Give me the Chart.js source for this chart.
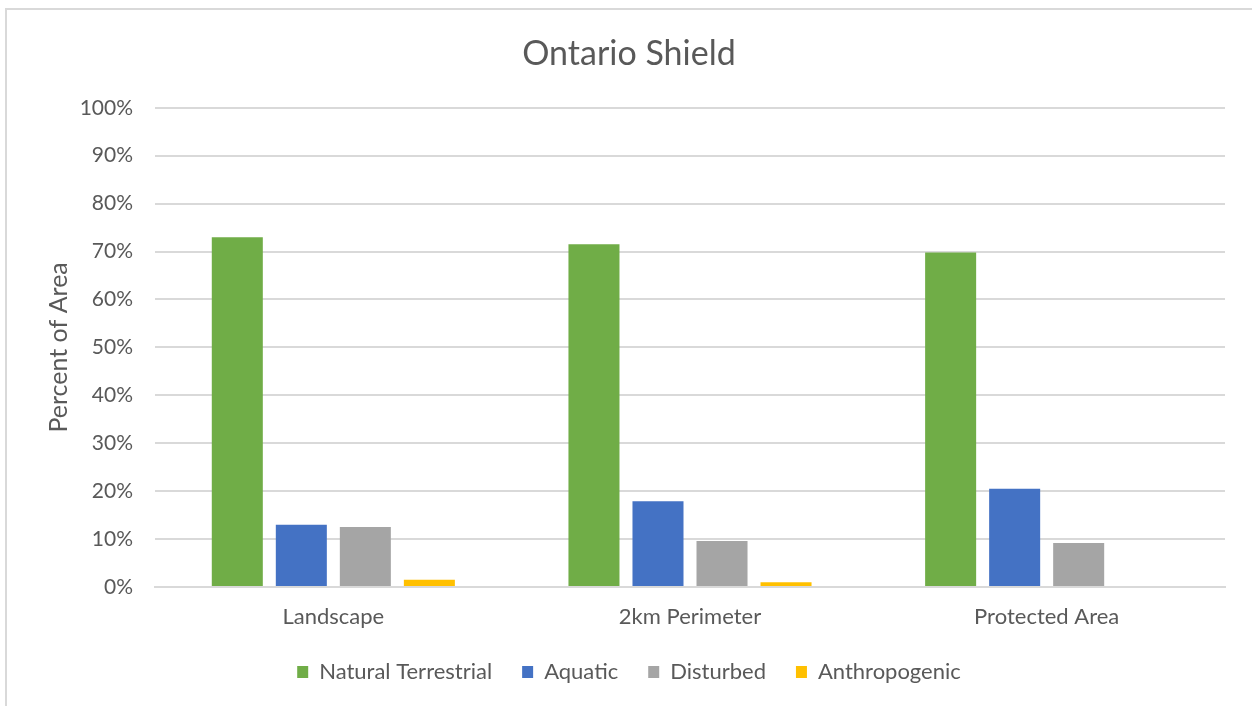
<!DOCTYPE html>
<html>
<head>
<meta charset="utf-8">
<script src="https://cdn.jsdelivr.net/npm/chart.js@4/dist/chart.umd.min.js"></script>
<style>
  html, body { margin: 0; padding: 0; background: #fff; overflow: hidden; }
  #frame { position: absolute; left: 5px; top: 8px; width: 1260px; height: 720px; border: 2px solid #d9d9d9; }
  #wrap { position: absolute; left: 0; top: 0; width: 1252px; height: 706px; }
</style>
</head>
<body>
<div id="frame"></div>
<div id="wrap"><canvas id="chart"></canvas></div>
<script>
const CATEGORIES = ['Landscape', '2km Perimeter', 'Protected Area'];
const NATURAL_TERRESTRIAL = [73.0, 71.5, 69.8];
const AQUATIC = [13.0, 17.9, 20.5];
const DISTURBED = [12.5, 9.6, 9.2];
const ANTHROPOGENIC = [1.5, 1.0, 0.0];
const Y_TICKS = [0, 10, 20, 30, 40, 50, 60, 70, 80, 90, 100];

const TEXT_COLOR = '#595959';
const GRID_COLOR = '#d9d9d9';
const FONT = 'Lato, "Open Sans", sans-serif';

function makeSeries(label, data, color) {
  return {
    label,
    data,
    backgroundColor: color,
    borderWidth: 0,
    categoryPercentage: 0.718,
    barPercentage: 0.797
  };
}

new Chart(document.getElementById('chart'), {
  type: 'bar',
  data: {
    labels: CATEGORIES,
    datasets: [
      makeSeries('Natural Terrestrial', NATURAL_TERRESTRIAL, '#70ad47'),
      makeSeries('Aquatic', AQUATIC, '#4472c4'),
      makeSeries('Disturbed', DISTURBED, '#a5a5a5'),
      makeSeries('Anthropogenic', ANTHROPOGENIC, '#ffc000')
    ]
  },
  options: {
    responsive: true,
    maintainAspectRatio: false,
    animation: false,
    layout: {
      padding: { top: 18, right: 27, bottom: 13, left: 33 }
    },
    plugins: {
      title: {
        display: true,
        text: 'Ontario Shield',
        color: TEXT_COLOR,
        font: { family: FONT, size: 34, weight: 'normal' },
        padding: { top: 16, bottom: 33 }
      },
      legend: {
        position: 'bottom',
        labels: {
          color: TEXT_COLOR,
          font: { family: FONT, size: 22 },
          boxWidth: 11,
          boxHeight: 12,
          padding: 30
        }
      },
      tooltip: { enabled: false }
    },
    scales: {
      x: {
        grid: { display: false, drawTicks: false },
        border: { display: true, color: GRID_COLOR, width: 2 },
        ticks: {
          color: TEXT_COLOR,
          font: { family: FONT, size: 22 },
          padding: 17,
          maxRotation: 0
        },
        afterFit(scale) { scale.height = 44; }
      },
      y: {
        min: 0,
        max: 100,
        afterBuildTicks(scale) { scale.ticks = Y_TICKS.map((value) => ({ value })); },
        grid: { color: GRID_COLOR, lineWidth: 2, drawTicks: false },
        border: { display: false },
        ticks: {
          color: TEXT_COLOR,
          font: { family: FONT, size: 21 },
          padding: 22,
          callback: (value) => value + '%'
        },
        title: {
          display: true,
          text: 'Percent of Area',
          color: TEXT_COLOR,
          font: { family: FONT, size: 25 },
          padding: { top: 11, bottom: 0 }
        },
        afterFit(scale) { scale.width = 122; }
      }
    }
  }
});
</script>
</body>
</html>
